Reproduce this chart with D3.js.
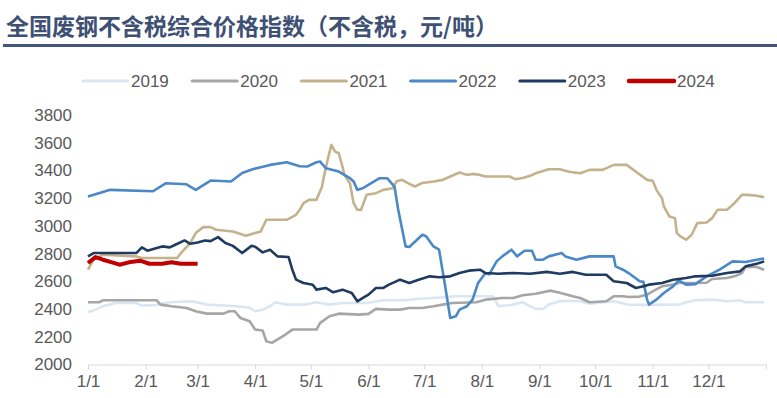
<!DOCTYPE html>
<meta charset="utf-8">
<html>
<head>
  <script src="https://d3js.org/d3.v7.min.js"></script>
</head>
<style>
body { margin: 0; background: #fff; }
* { font-family: "Liberation Sans", Arial, sans-serif; }
#title { font-family: "Noto Sans CJK SC", sans-serif; font-size: 23px; font-weight: bold; fill: #3e5174; }
.tick text, .legend text { font-size: 17px; fill: #595959; }
</style>
<body>
<div id="container"></div>
<script>

var width = 777;
var height = 398;

var years = ["2019", "2020", "2021", "2022", "2023", "2024"];
var colors = ["#dce6f2", "#a6a6a6", "#c4b28d", "#4a88c7", "#1f3b5f", "#c00000"];
var yTicks = [2000, 2200, 2400, 2600, 2800, 3000, 3200, 3400, 3600, 3800];

// values, [month-day, index]
var s2019 = [["01-01",2377],["01-05",2396],["01-09",2420],["01-16",2444],["01-27",2444],["01-30",2425],["02-07",2430],["02-14",2449],["02-26",2456],["03-06",2432],["03-22",2420],["03-29",2410],["04-01",2384],["04-05",2395],["04-09",2420],["04-12",2449],["04-18",2432],["04-28",2432],["05-04",2449],["05-06",2444],["05-11",2432],["05-18",2444],["05-31",2444],["06-09",2463],["06-21",2463],["06-27",2473],["07-06",2480],["07-18",2492],["08-07",2492],["08-10",2420],["08-18",2432],["08-23",2449],["08-27",2420],["08-30",2401],["09-03",2401],["09-06",2432],["09-12",2456],["09-17",2460],["09-23",2456],["09-28",2439],["10-11",2456],["10-19",2432],["10-29",2430],["11-15",2432],["11-19",2449],["11-24",2463],["12-03",2468],["12-11",2456],["12-18",2463],["12-21",2449],["12-31",2449]];

var s2020 = [["01-01",2449],["01-07",2449],["01-09",2463],["02-07",2463],["02-09",2432],["02-15",2420],["02-23",2408],["02-28",2384],["03-06",2367],["03-15",2367],["03-18",2384],["03-21",2384],["03-24",2336],["03-29",2312],["04-01",2252],["04-05",2245],["04-07",2168],["04-10",2156],["04-16",2204],["04-21",2252],["05-04",2252],["05-06",2300],["05-11",2348],["05-16",2367],["05-27",2360],["06-01",2365],["06-05",2401],["06-12",2396],["06-18",2396],["06-23",2408],["06-30",2408],["07-06",2420],["07-11",2432],["07-16",2444],["07-29",2449],["08-03",2468],["08-12",2480],["08-18",2480],["08-23",2499],["08-30",2511],["09-07",2533],["09-12",2518],["09-19",2492],["09-23",2480],["09-28",2449],["10-07",2456],["10-11",2492],["10-16",2492],["10-19",2487],["10-25",2490],["10-29",2504],["11-01",2528],["11-06",2564],["11-12",2576],["11-15",2588],["11-30",2590],["12-03",2617],["12-11",2624],["12-16",2641],["12-19",2660],["12-21",2703],["12-27",2703],["12-31",2684]];

var s2021 = [["01-01",2684],["01-04",2756],["01-09",2792],["01-27",2780],["01-30",2768],["02-18",2768],["02-20",2804],["02-25",2876],["02-28",2948],["03-04",2991],["03-08",2991],["03-11",2972],["03-20",2960],["03-27",2929],["04-01",2948],["04-04",2960],["04-07",3044],["04-18",3044],["04-23",3080],["04-25",3116],["04-27",3164],["04-30",3188],["05-04",3188],["05-07",3284],["05-08",3356],["05-10",3476],["05-12",3584],["05-14",3536],["05-16",3524],["05-18",3428],["05-19",3368],["05-22",3308],["05-24",3164],["05-26",3116],["05-28",3116],["05-30",3188],["05-31",3224],["06-05",3236],["06-09",3260],["06-14",3272],["06-16",3320],["06-19",3332],["06-23",3303],["06-26",3284],["06-30",3310],["07-06",3320],["07-11",3332],["07-15",3356],["07-20",3385],["07-24",3368],["07-27",3375],["07-31",3368],["08-03",3356],["08-16",3356],["08-19",3337],["08-23",3345],["08-27",3361],["08-30",3380],["09-06",3409],["09-12",3409],["09-17",3390],["09-23",3380],["09-28",3404],["10-05",3404],["10-11",3440],["10-18",3440],["10-23",3390],["10-29",3332],["11-01",3325],["11-03",3260],["11-06",3200],["11-07",3140],["11-10",3068],["11-13",3056],["11-14",2948],["11-16",2924],["11-19",2900],["11-22",2936],["11-25",3020],["11-30",3025],["12-03",3056],["12-06",3116],["12-11",3116],["12-15",3164],["12-19",3224],["12-22",3224],["12-27",3217],["12-31",3207]];

var s2022 = [["01-01",3212],["01-13",3260],["02-05",3250],["02-12",3308],["02-23",3300],["02-28",3260],["03-08",3327],["03-19",3320],["03-25",3382],["03-31",3410],["04-09",3440],["04-18",3459],["04-25",3430],["04-29",3428],["05-04",3459],["05-06",3464],["05-09",3416],["05-16",3392],["05-22",3344],["05-24",3320],["05-26",3260],["05-29",3272],["06-07",3344],["06-11",3344],["06-15",3284],["06-17",3116],["06-21",2852],["06-23",2848],["06-30",2936],["07-02",2925],["07-06",2852],["07-09",2828],["07-12",2588],["07-15",2336],["07-18",2348],["07-20",2396],["07-24",2420],["07-27",2468],["07-30",2588],["08-03",2660],["08-05",2650],["08-09",2744],["08-12",2780],["08-17",2828],["08-20",2780],["08-24",2821],["08-28",2821],["08-30",2756],["09-03",2756],["09-06",2780],["09-13",2804],["09-15",2780],["09-21",2756],["09-28",2780],["10-11",2780],["10-12",2708],["10-16",2684],["10-19",2660],["10-25",2600],["10-27",2596],["10-29",2468],["10-30",2432],["11-03",2468],["11-07",2516],["11-12",2564],["11-15",2607],["11-19",2576],["11-24",2580],["11-30",2636],["12-07",2684],["12-14",2744],["12-21",2740],["12-27",2756],["12-31",2765]];

var s2023 = [["01-01",2780],["01-04",2804],["01-27",2804],["01-30",2845],["02-02",2821],["02-07",2840],["02-10",2852],["02-14",2845],["02-17",2864],["02-22",2895],["02-25",2871],["03-01",2880],["03-05",2895],["03-08",2890],["03-12",2919],["03-16",2876],["03-20",2856],["03-25",2804],["03-30",2856],["04-01",2850],["04-05",2809],["04-09",2828],["04-13",2780],["04-19",2775],["04-21",2684],["04-23",2612],["04-27",2588],["05-02",2576],["05-04",2540],["05-09",2552],["05-13",2521],["05-18",2540],["05-23",2516],["05-26",2456],["05-29",2480],["06-01",2504],["06-05",2552],["06-09",2552],["06-12",2576],["06-18",2612],["06-23",2588],["06-28",2612],["07-04",2636],["07-09",2630],["07-15",2636],["07-20",2660],["07-25",2677],["07-31",2684],["08-03",2660],["08-10",2655],["08-18",2660],["08-27",2655],["09-05",2668],["09-12",2655],["09-19",2668],["09-26",2648],["10-07",2648],["10-11",2600],["10-18",2588],["10-23",2552],["10-27",2564],["10-30",2576],["11-06",2588],["11-12",2612],["11-19",2624],["11-24",2636],["12-03",2640],["12-11",2660],["12-18",2672],["12-21",2708],["12-27",2727],["12-31",2744]];

var s2024 = [["01-01",2732],["01-05",2775],["01-09",2756],["01-14",2737],["01-18",2720],["01-23",2737],["01-29",2749],["02-03",2727],["02-10",2727],["02-15",2737],["02-20",2727],["03-01",2727]];

var series = [s2019, s2020, s2021, s2022, s2023, s2024];

var margin = {left: 88, right: 11, top: 115, bottom: 33.5};

var parseDay = d3.timeParse("%Y-%m-%d");
var x = d3.scaleTime()
    .domain([parseDay("2023-01-01"), parseDay("2024-01-01")])
    .range([margin.left, width - margin.right]);
var y = d3.scaleLinear()
    .domain([2000, 3800])
    .range([height - margin.bottom, margin.top]);

var svg = d3.select("#container").append("svg")
    .attr("width", width)
    .attr("height", height);

// title + rule under it
svg.append("text")
   .attr("id", "title")
   .attr("x", 6)
   .attr("y", 35)
   .text("全国废钢不含税综合价格指数（不含税，元/吨）");

svg.append("line")
   .attr("x1", 3).attr("x2", width)
   .attr("y1", 45.5).attr("y2", 45.5)
   .attr("stroke", "#44577a")
   .attr("stroke-width", 3);

// x axis, month ticks
var monthTicks = d3.timeMonth.range(parseDay("2023-01-01"), parseDay("2024-01-02"));
var xAxis = d3.axisBottom(x)
    .tickValues(monthTicks)
    .tickFormat((d) => d.getFullYear() == 2024 ? "" : d3.timeFormat("%-m/%-d")(d))
    .tickSize(5)
    .tickSizeOuter(0)
    .tickPadding(5);

var gx = svg.append("g")
   .attr("transform", "translate(0," + y(2000) + ")")
   .call(xAxis);
gx.selectAll("path, line").attr("stroke", "#d9d9d9");

// y axis, labels only
var yAxis = d3.axisLeft(y).tickValues(yTicks).tickFormat(d3.format("d")).tickSize(0).tickPadding(16);
var gy = svg.append("g")
   .attr("transform", "translate(" + margin.left + ",0)")
   .call(yAxis);
gy.select(".domain").remove();

// lines
var line = d3.line()
    .x((d) => x(parseDay("2023-" + d[0])))
    .y((d) => y(d[1]));

svg.selectAll(".series")
   .data(series)
   .enter()
   .append("path")
   .attr("class", "series")
   .attr("d", line)
   .attr("fill", "none")
   .attr("stroke", (d, i) => colors[i])
   .attr("stroke-width", (d, i) => i == 5 ? 4 : 2.6)
   .attr("stroke-linejoin", "round");

// legend
var legendX = d3.scaleLinear().domain([0, 5]).range([83, 629]);
var legend = svg.append("g").attr("class", "legend");
var item = legend.selectAll("g")
   .data(years)
   .enter()
   .append("g")
   .attr("transform", (d, i) => "translate(" + legendX(i) + ",81)");
item.append("line")
   .attr("x1", 0).attr("x2", 45)
   .attr("stroke", (d, i) => colors[i])
   .attr("stroke-width", (d, i) => i == 5 ? 4.5 : 3)
   .attr("stroke-linecap", "round");
item.append("text")
   .attr("x", 48)
   .attr("y", 6)
   .text((d) => d);

</script>
</body>
</html>
